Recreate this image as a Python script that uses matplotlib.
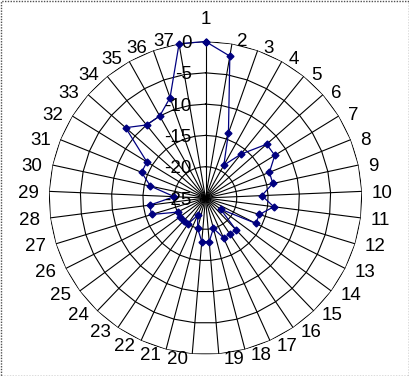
import numpy as np
import matplotlib
matplotlib.use('Agg')
import matplotlib.pyplot as plt
from matplotlib.patches import Rectangle

# Datos del gráfico radial (37 categorías, escala de -25 a 0)
categorias = [str(i) for i in range(1, 38)]
valores = [0, -2, -14, -19, -16, -12, -12, -14, -14, -16,
           -14, -16, -16, -22, -18, -18, -18, -20, -18, -18,
           -20, -22, -20, -20, -20, -20, -16, -16, -20, -16,
           -14, -14, -8, -10, -10, -8, 0]
niveles = [-25, -20, -15, -10, -5, 0]
etiquetas_niveles = ['-25', '-20', '-15', '-10', '-5', '0']

plt.rcParams['font.family'] = ['Liberation Sans', 'DejaVu Sans']

DPI = 100
fig = plt.figure(figsize=(4.09, 3.76), dpi=DPI)
ax = fig.add_axes([0.1198, 0.0572, 0.7653, 0.8324], projection='polar')
ax.set_theta_zero_location('N')
ax.set_theta_direction(-1)
ax.set_rlim(niveles[0], niveles[-1])
ax.grid(False)
ax.set_xticks([])
ax.set_yticks([])
ax.spines['polar'].set_visible(False)

n = len(categorias)
angulos = np.arange(n) * 2 * np.pi / n
ang_cerrado = np.append(angulos, angulos[0])

# Rejilla poligonal
for nv in niveles[1:]:
    ax.plot(ang_cerrado, [nv] * (n + 1), color='black', lw=0.8, zorder=1)
# Radios
for a in angulos:
    ax.plot([a, a], [niveles[0], niveles[-1]], color='black', lw=0.8, zorder=1)

# Serie de datos
val_cerrado = valores + [valores[0]]
ax.plot(ang_cerrado, val_cerrado, color='#000080', lw=0.9, marker='D',
        markersize=3.5, zorder=3, clip_on=False)

# Etiquetas de categorías
px = 72.0 / DPI
for a, cat in zip(angulos, categorias):
    s, c = np.sin(a), np.cos(a)
    if abs(s) < 1e-6:
        ax.annotate(cat, xy=(a, 0), xytext=(0, 22 * px), textcoords='offset points',
                    ha='center', va='center', fontsize=13.5, annotation_clip=False)
        continue
    gap = (4 + 6 * abs(s)) * px
    dy = -(2 - 4 * c) * px
    ax.annotate(cat, xy=(a, 0), xytext=(gap if s > 0 else -gap, dy),
                textcoords='offset points', ha='left' if s > 0 else 'right',
                va='center', fontsize=13.5, annotation_clip=False)

# Etiquetas del eje de valores
for nv, et in zip(niveles, etiquetas_niveles):
    ax.annotate(et, xy=(0, nv), xytext=(-10, -1.5), textcoords='offset points',
                ha='right', va='center', fontsize=13.5, annotation_clip=False, zorder=4)

# Borde punteado
fig.patches.append(Rectangle((0.5 / 409, 0.5 / 376), 1 - 1.0 / 409, 1 - 1.0 / 376,
                             transform=fig.transFigure, fill=False,
                             edgecolor='#505050', lw=1, linestyle=(0, (1, 1))))

fig.savefig('out.png', dpi=DPI)
